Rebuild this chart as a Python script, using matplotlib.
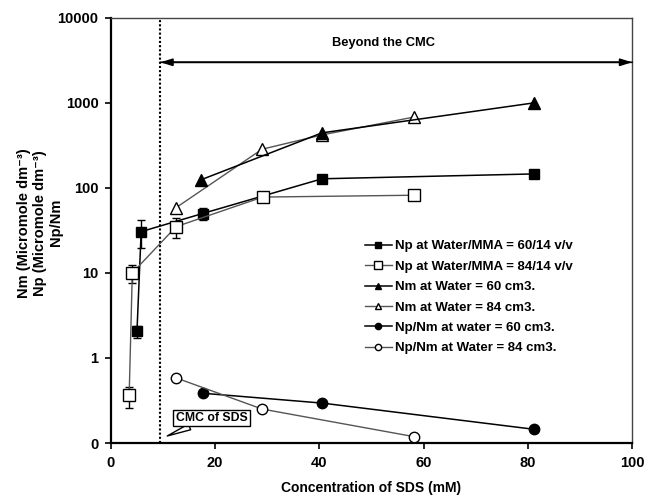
import matplotlib
matplotlib.use("Agg")
import matplotlib.pyplot as plt
from matplotlib.ticker import FixedLocator, FixedFormatter, NullLocator

plt.rcParams['font.family'] = ['Liberation Sans', 'DejaVu Sans']
plt.rcParams['font.weight'] = 'bold'

# Data
x_np60 = [5.0, 5.8, 17.6, 40.5, 81.2]
np60 = [2.1, 30.6, 50, 128, 146]
np60_lo = [0.4, 11, 8, 0, 0]
np60_hi = [0.3, 11, 8, 0, 0]

x_np84 = [3.5, 4.1, 12.5, 29.1, 58.1]
np84 = [0.37, 10, 35, 78, 82]
np84_lo = [0.11, 2.4, 9, 0, 0]
np84_hi = [0.08, 2.4, 9, 0, 0]

x_nm60 = [17.2, 40.5, 81.2]
nm60 = [124, 444, 1000]

x_nm84 = [12.4, 29.0, 40.5, 58.1]
nm84 = [58, 285, 420, 680]

x_r60 = [17.6, 40.5, 81.2]
r60 = [0.385, 0.295, 0.145]

x_r84 = [12.4, 29.0, 58.1]
r84 = [0.586, 0.251, 0.119]

labels = ['Np at Water/MMA = 60/14 v/v', 'Np at Water/MMA = 84/14 v/v',
          'Nm at Water = 60 cm3.', 'Nm at Water = 84 cm3.',
          'Np/Nm at water = 60 cm3.', 'Np/Nm at Water = 84 cm3.']

cmc = 9.5
ytick_vals = [0.1, 1, 10, 100, 1000, 10000]
ytick_labels = ['0', '1', '10', '100', '1000', '10000']
xtick_vals = [0, 20, 40, 60, 80, 100]

fig = plt.figure(figsize=(6.45, 4.95), dpi=100)
ax = fig.add_axes([0.172, 0.105, 0.808, 0.859])
ax.set_yscale('log')
ax.set_xlim(0, 100)
ax.set_ylim(0.1, 10000)

gray = '#555555'
ax.errorbar(x_np60, np60, yerr=[np60_lo, np60_hi], fmt='none', ecolor='black',
            capsize=3, elinewidth=1, zorder=2)
ax.errorbar(x_np84, np84, yerr=[np84_lo, np84_hi], fmt='none', ecolor='black',
            capsize=3, elinewidth=1, zorder=2)
h1, = ax.plot(x_np60, np60, color='black', lw=1.1, marker='s', ms=6.5, mfc='black',
              mec='black', label=labels[0], zorder=3)
h2, = ax.plot(x_np84, np84, color=gray, lw=1.0, marker='s', ms=9, mfc='white',
              mec='black', label=labels[1], zorder=3)
h3, = ax.plot(x_nm60, nm60, color='black', lw=1.1, marker='^', ms=8, mfc='black',
              mec='black', label=labels[2], zorder=4)
h4, = ax.plot(x_nm84, nm84, color=gray, lw=1.0, marker='^', ms=8, mfc='white',
              mec='black', label=labels[3], zorder=3)
h5, = ax.plot(x_r60, r60, color='black', lw=1.1, marker='o', ms=7.5, mfc='black',
              mec='black', label=labels[4], zorder=3)
h6, = ax.plot(x_r84, r84, color=gray, lw=1.0, marker='o', ms=7.5, mfc='white',
              mec='black', label=labels[5], zorder=3)

ax.axvline(cmc, color='black', lw=1.5, ls=(0, (1, 1)))

ax.annotate('', xy=(cmc, 3000), xytext=(100, 3000),
            arrowprops=dict(arrowstyle='-|>,head_length=0.7,head_width=0.22',
                            color='black', lw=1.2, shrinkA=0, shrinkB=0))
ax.annotate('', xy=(100, 3000), xytext=(cmc, 3000),
            arrowprops=dict(arrowstyle='-|>,head_length=0.7,head_width=0.22',
                            color='black', lw=1.2, shrinkA=0, shrinkB=0))
ax.text(52.3, 5000, 'Beyond the CMC', ha='center', va='center', fontsize=9.3,
        fontweight='bold')

ax.annotate('CMC of SDS', xy=(10.8, 0.121), xytext=(19.3, 0.197),
            ha='center', va='center', fontsize=8.8, fontweight='bold',
            bbox=dict(boxstyle='square,pad=0.2', fc='white', ec='black', lw=1),
            arrowprops=dict(arrowstyle='wedge,tail_width=0.5', fc='white', ec='black',
                            lw=1, shrinkA=0, shrinkB=0))

ax.yaxis.set_major_locator(FixedLocator(ytick_vals))
ax.yaxis.set_major_formatter(FixedFormatter(ytick_labels))
ax.yaxis.set_minor_locator(NullLocator())
ax.set_xticks(xtick_vals)
ax.tick_params(axis='both', labelsize=10.5, direction='out', length=4, width=1.2, pad=5)
for lab in ax.get_xticklabels() + ax.get_yticklabels():
    lab.set_fontweight('bold')

for s in ['left', 'bottom']:
    ax.spines[s].set_linewidth(1.6)
    ax.spines[s].set_color('black')
for s in ['top', 'right']:
    ax.spines[s].set_linewidth(1.0)
    ax.spines[s].set_color('#444444')

ax.set_xlabel('Concentration of SDS (mM)', fontsize=10, fontweight='bold')
ax.xaxis.set_label_coords(0.5, -0.09)
ax.set_ylabel('Nm (Micromole dm\u207b\u00b3)\nNp (Micromole dm\u207b\u00b3)\nNp/Nm',
              fontsize=10.5, fontweight='bold', linespacing=1.2)
ax.yaxis.set_label_coords(-0.092, 0.518)

leg = ax.legend(handles=[h1, h2, h3, h4, h5, h6], loc='upper left',
                bbox_to_anchor=(0.465, 0.505), frameon=False,
                fontsize=9.5, handlelength=2.0, handletextpad=0.25, labelspacing=0.62,
                markerscale=0.6)
for t in leg.get_texts():
    t.set_fontweight('bold')

fig.savefig('out.png', dpi=100)
